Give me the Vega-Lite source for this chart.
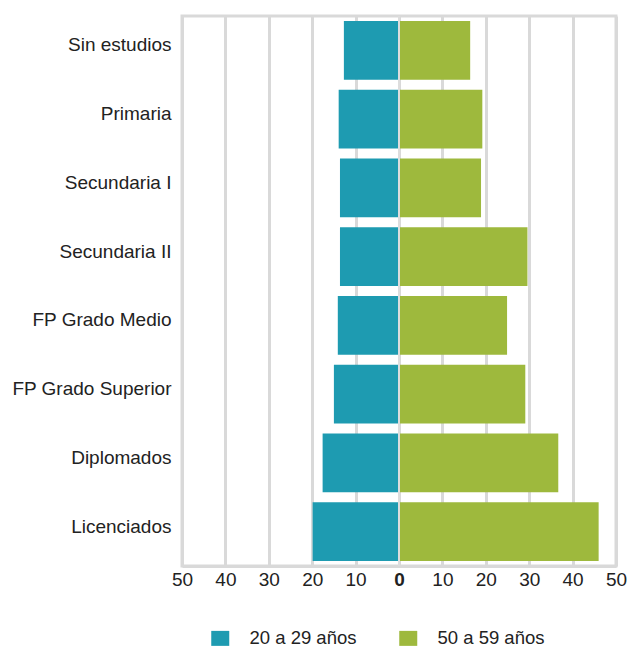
{
  "$schema": "https://vega.github.io/schema/vega-lite/v6.json",
  "width": 434,
  "height": 550,
  "autosize": {"type": "none"},
  "padding": {"left": 182, "top": 16, "right": 12, "bottom": 82},
  "background": "white",
  "config": {
    "view": {"stroke": "#d9d9d9", "strokeWidth": 3},
    "font": "Liberation Sans"
  },
  "data": {
    "values": [
      {"nivel": "Sin estudios", "grupo": "20 a 29 años", "valor": 12.7},
      {"nivel": "Sin estudios", "grupo": "50 a 59 años", "valor": 16.4},
      {"nivel": "Primaria", "grupo": "20 a 29 años", "valor": 13.9},
      {"nivel": "Primaria", "grupo": "50 a 59 años", "valor": 19.2},
      {"nivel": "Secundaria I", "grupo": "20 a 29 años", "valor": 13.6},
      {"nivel": "Secundaria I", "grupo": "50 a 59 años", "valor": 18.9},
      {"nivel": "Secundaria II", "grupo": "20 a 29 años", "valor": 13.6},
      {"nivel": "Secundaria II", "grupo": "50 a 59 años", "valor": 29.6},
      {"nivel": "FP Grado Medio", "grupo": "20 a 29 años", "valor": 14.1},
      {"nivel": "FP Grado Medio", "grupo": "50 a 59 años", "valor": 24.9},
      {"nivel": "FP Grado Superior", "grupo": "20 a 29 años", "valor": 15.0},
      {"nivel": "FP Grado Superior", "grupo": "50 a 59 años", "valor": 29.1},
      {"nivel": "Diplomados", "grupo": "20 a 29 años", "valor": 17.6},
      {"nivel": "Diplomados", "grupo": "50 a 59 años", "valor": 36.7},
      {"nivel": "Licenciados", "grupo": "20 a 29 años", "valor": 19.9},
      {"nivel": "Licenciados", "grupo": "50 a 59 años", "valor": 46.0}
    ]
  },
  "transform": [
    {"calculate": "datum.grupo === '20 a 29 años' ? -datum.valor : datum.valor", "as": "x"}
  ],
  "layer": [
    {
      "mark": {"type": "bar"},
      "encoding": {
        "y": {
          "field": "nivel",
          "type": "nominal",
          "sort": null,
          "scale": {"paddingInner": 0.147, "paddingOuter": 0.073},
          "axis": {
            "title": null,
            "domain": false,
            "ticks": false,
            "labelFontSize": 19,
            "labelColor": "#222222",
            "labelPadding": 11,
            "labelOffset": -5,
            "labelFont": "Liberation Sans"
          }
        },
        "x": {
          "field": "x",
          "type": "quantitative",
          "scale": {"domain": [-50, 50], "nice": false},
          "axis": {
            "title": null,
            "values": [-50, -40, -30, -20, -10, 0, 10, 20, 30, 40, 50],
            "labelExpr": "abs(datum.value)",
            "labelFontSize": 19,
            "labelColor": "#222222",
            "labelFontWeight": {"expr": "datum.value == 0 ? 'bold' : 'normal'"},
            "labelPadding": 4,
            "labelFlush": false,
            "grid": true,
            "gridColor": "#d9d9d9",
            "gridWidth": 3,
            "domain": true,
            "domainColor": "#d9d9d9",
            "domainWidth": 3,
            "ticks": false
          }
        },
        "color": {
          "field": "grupo",
          "type": "nominal",
          "scale": {"domain": ["20 a 29 años", "50 a 59 años"], "range": ["#1e9bb1", "#9eb93d"]},
          "legend": {
            "title": null,
            "orient": "none",
            "direction": "horizontal",
            "legendX": 29,
            "legendY": 613,
            "symbolType": "M-1,-0.833H1V0.833H-1Z",
            "symbolSize": 324,
            "symbolStrokeWidth": 0,
            "labelFontSize": 18.5,
            "labelColor": "#222222",
            "labelOffset": 20,
            "columnPadding": 42,
            "labelFont": "Liberation Sans"
          }
        }
      }
    },
    {
      "mark": {"type": "rule", "color": "#dddddd", "strokeWidth": 2},
      "encoding": {"x": {"datum": 0, "type": "quantitative"}}
    }
  ]
}
